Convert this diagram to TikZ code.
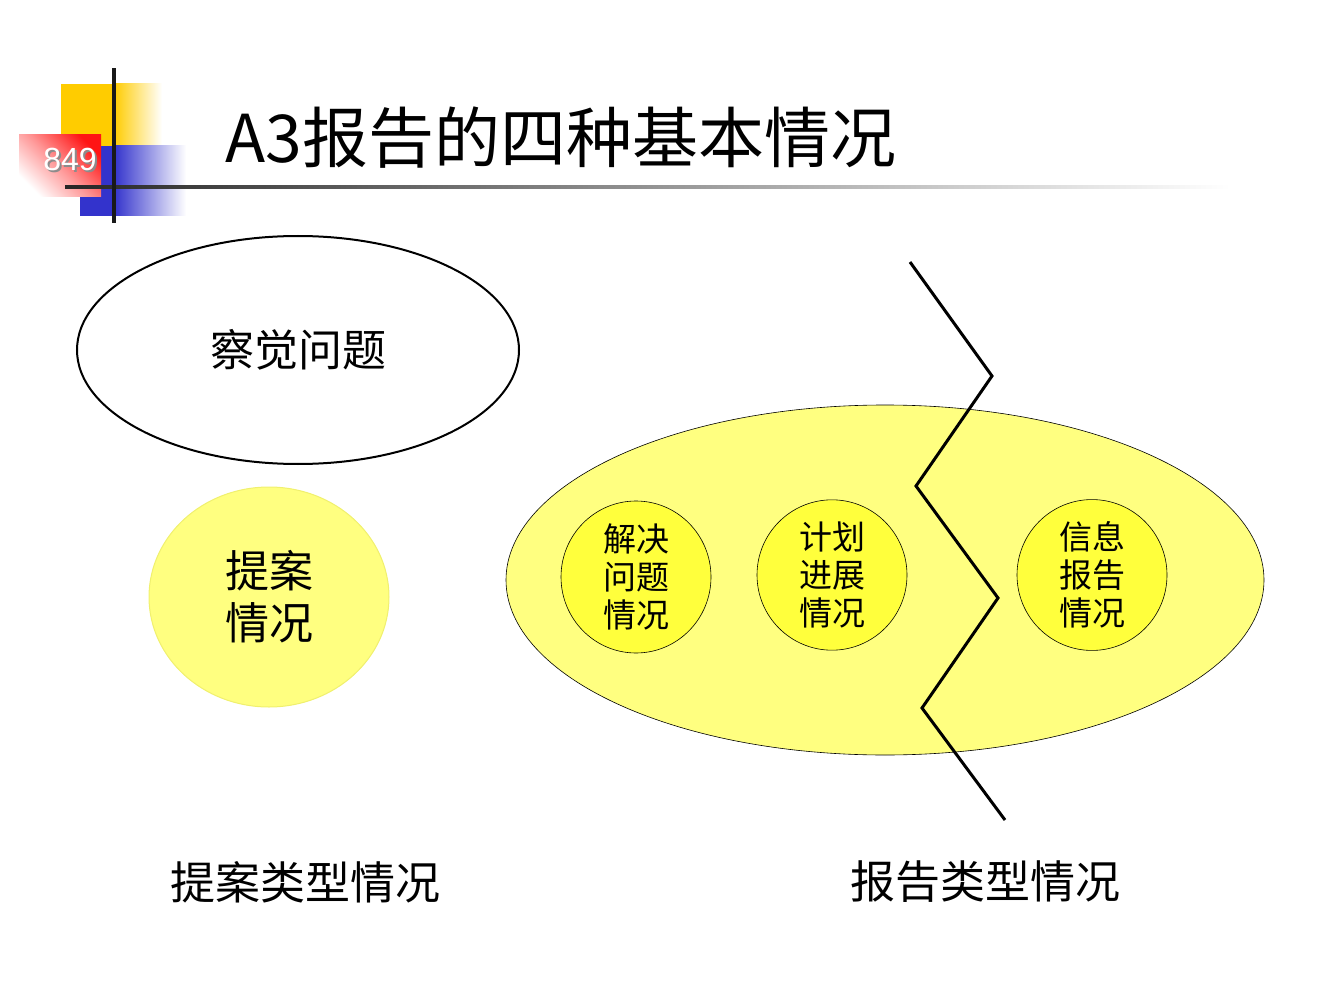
\documentclass[tikz,border=0pt]{standalone}
\usepackage{fontspec}
\newfontfamily\cjk{Noto Sans CJK SC}
\newfontfamily\numfont{Liberation Sans}
\usetikzlibrary{shapes.geometric}
\definecolor{logoyellow}{RGB}{255,204,0}
\definecolor{logoblue}{RGB}{51,51,204}
\definecolor{logored}{RGB}{255,20,20}
\definecolor{paleyellow}{RGB}{255,255,128}
\definecolor{brightyellow}{RGB}{255,255,60}
\definecolor{rimyellow}{RGB}{240,240,110}
\tikzset{
  cjktext/.style={font=\cjk\fontsize{#1}{#1}\selectfont},
  bigtext/.style={font=\cjk\fontsize{44}{52}\selectfont, align=center},
  smalltext/.style={font=\cjk\fontsize{33}{38}\selectfont, align=center},
  situation/.style={ellipse, draw=black, line width=0.6pt, fill=brightyellow,
    minimum width=150pt, minimum height=152pt, inner sep=0pt, smalltext},
}
\begin{document}
\begin{tikzpicture}[x=1pt,y=-1pt]
\useasboundingbox (0,0) rectangle (1344,1008);

  %% logo
  \fill[logoyellow] (61,84) rectangle (114,146);
  \shade[left color=logoyellow, right color=white] (114,84) rectangle (162,146);
  \fill[logoblue] (80,146) rectangle (114,216);
  \shade[left color=logoblue, right color=white] (114,146) rectangle (186,216);
  \shade[top color=logored, bottom color=white, middle color=logored!45,
    shading angle=-45] (19,135) rectangle (101,197);
  \node[font=\numfont\fontsize{32}{32}\selectfont, text=black!45] at (72,161) {849};
  \node[font=\numfont\fontsize{32}{32}\selectfont, text=white] (pageno) at (70,159) {849};
  \shade[left color=black!85, middle color=black!70, right color=white]
    (65,185.5) rectangle (1230,188.5);
  \fill[black!90] (112,68) rectangle (116,223);

  %% title
  \node[cjktext=66, anchor=west] (title) at (222,138) {A3报告的四种基本情况};

  %% left side
  \node[ellipse, draw=black, line width=2pt, fill=white, minimum width=442pt,
    minimum height=228pt, inner sep=0pt, bigtext] (notice) at (298,350) {察觉问题};
  \node[ellipse, draw=rimyellow, line width=1pt, fill=paleyellow, minimum width=240pt,
    minimum height=220pt, inner sep=0pt, bigtext] (proposal) at (269,597) {提案\\情况};

  %% right side
  \node[ellipse, draw=black, line width=0.6pt, fill=paleyellow, minimum width=758pt,
    minimum height=350pt, inner sep=0pt] (report) at (885,580) {};
  \node[situation] (solve) at (636,577) {解决\\问题\\情况};
  \node[situation, minimum height=150pt] (plan) at (832,575) {计划\\进展\\情况};
  \node[situation, minimum height=150pt] (info) at (1092,575) {信息\\报告\\情况};

  %% dividing line
  \draw[line width=3pt, line join=miter] (910,262) -- (992,376) -- (916,486)
    -- (998,598) -- (922,708) -- (1005,820);

  %% captions
  \node[cjktext=45] (leftcap) at (305,882) {提案类型情况};
  \node[cjktext=45] (rightcap) at (985,882) {报告类型情况};

\end{tikzpicture}
\end{document}
